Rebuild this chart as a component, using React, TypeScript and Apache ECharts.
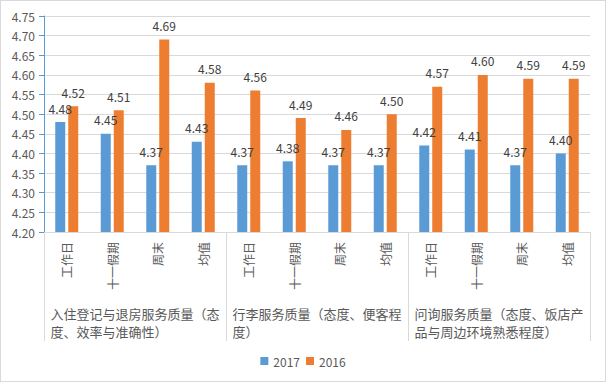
import React, { useEffect, useRef } from "react";
import * as echarts from "echarts";

const subCategories = [
  "工作日", "十一假期", "周末", "均值",
  "工作日", "十一假期", "周末", "均值",
  "工作日", "十一假期", "周末", "均值",
];
const groupLabels = [
  ["入住登记与退房服务质量（态", "度、效率与准确性）"],
  ["行李服务质量（态度、便客程", "度）"],
  ["问询服务质量（态度、饭店产", "品与周边环境熟悉程度）"],
];
const seriesNames = ["2017", "2016"];
const values2017 = [4.48, 4.45, 4.37, 4.43, 4.37, 4.38, 4.37, 4.37, 4.42, 4.41, 4.37, 4.40];
const values2016 = [4.52, 4.51, 4.69, 4.58, 4.56, 4.49, 4.46, 4.50, 4.57, 4.60, 4.59, 4.59];
const yMin = 4.2;
const yMax = 4.75;
const yInterval = 0.05;

const FONT = "'Noto Sans CJK SC', 'Noto Sans', sans-serif";
const TEXT = "#595959";
const GRID = "#d9d9d9";

export default function App() {
  const ref = useRef<HTMLDivElement>(null);
  useEffect(() => {
    document.body.style.margin = "0";
    const chart = echarts.init(ref.current!, null, { renderer: "svg" });
    chart.setOption({
      animation: false,
      textStyle: { fontFamily: FONT },
      grid: { left: 43, right: 15, top: 15, bottom: 149 },
      legend: {
        bottom: 9,
        left: "center",
        itemWidth: 8,
        itemHeight: 8,
        itemGap: 6,
        icon: "rect",
        textStyle: { fontSize: 12, color: TEXT, fontFamily: FONT },
        data: seriesNames,
      },
      xAxis: [
        {
          type: "category",
          data: subCategories,
          position: "bottom",
          axisLine: { show: true, lineStyle: { color: GRID } },
          axisTick: { show: false },
          axisLabel: {
            rotate: 90,
            margin: 10,
            fontSize: 12,
            color: TEXT,
            fontFamily: FONT,
            interval: 0,
          },
        },
        {
          type: "category",
          data: groupLabels.map((g) => g.join("\n")),
          position: "bottom",
          offset: 0,
          axisLine: { show: false },
          axisTick: { show: true, length: 109, lineStyle: { color: GRID } },
          axisLabel: {
            margin: 72,
            interval: 0,
            fontSize: 13,
            color: TEXT,
            fontFamily: FONT,
            lineHeight: 18,
            formatter: (v: string) =>
              v
                .split("\n")
                .map((l) => "{a|" + l + "}")
                .join("\n"),
            rich: {
              a: { align: "left", fontSize: 13, color: TEXT, lineHeight: 18, fontFamily: FONT },
            },
          },
        },
      ],
      yAxis: {
        type: "value",
        min: yMin,
        max: yMax,
        interval: yInterval,
        axisLine: { show: true, lineStyle: { color: "#5b9bd5" } },
        axisTick: { show: true, length: 5, lineStyle: { color: "#5b9bd5" } },
        axisLabel: {
          fontSize: 12,
          color: TEXT,
          margin: 9,
          fontFamily: FONT,
          formatter: (v: number) => v.toFixed(2),
        },
        splitLine: { lineStyle: { color: GRID } },
      },
      series: [
        {
          name: seriesNames[0],
          type: "bar",
          data: values2017,
          barWidth: 10,
          barGap: "30%",
          itemStyle: { color: "#5b9bd5" },
          label: {
            show: true,
            position: "top",
            distance: 8,
            fontSize: 12,
            color: "#404040",
            fontFamily: FONT,
            formatter: (p: any) => p.value.toFixed(2),
          },
        },
        {
          name: seriesNames[1],
          type: "bar",
          data: values2016,
          barWidth: 10,
          itemStyle: { color: "#ed7d31" },
          label: {
            show: true,
            position: "top",
            distance: 8,
            fontSize: 12,
            color: "#404040",
            fontFamily: FONT,
            formatter: (p: any) => p.value.toFixed(2),
          },
        },
      ],
    });
    return () => chart.dispose();
  }, []);
  return (
    <div
      style={{
        width: 606,
        height: 382,
        boxSizing: "border-box",
        border: "1px solid #d9d9d9",
        background: "#fff",
      }}
    >
      <div ref={ref} style={{ width: 604, height: 380 }} />
    </div>
  );
}
